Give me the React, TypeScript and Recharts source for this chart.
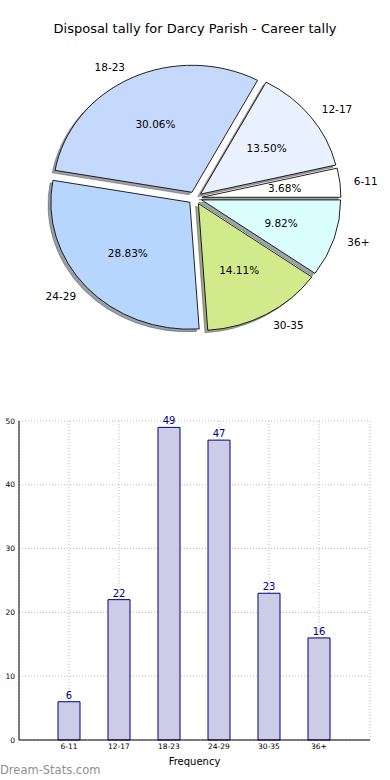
import { Bar, BarChart, CartesianGrid, Cell, LabelList, Pie, PieChart, Sector, XAxis, YAxis } from 'recharts'

const categories = ['6-11', '12-17', '18-23', '24-29', '30-35', '36+']
const tallies = [6, 22, 49, 47, 23, 16]
const sliceColors = ['#ffffff', '#eaf1fe', '#c5d9fd', '#b6d6fe', '#d1eb8c', '#dbffff']
const yTicks = [0, 10, 20, 30, 40, 50]

const pieData = categories.map((name, i) => ({ name, value: tallies[i] }))
const barData = categories.map((name, i) => ({ name, value: tallies[i] }))

const FONT = '"DejaVu Sans", Verdana, sans-serif'
const RAD = Math.PI / 180
// the original pie is an ellipse (axes not equal) with every wedge pushed out a little
const SQUASH = 127 / 139
const EXPLODE = 0.05
const NAVY = '#00007f'

function shadowOf(hex: string) {
  const n = parseInt(hex.slice(1), 16)
  const r = Math.round(((n >> 16) & 255) * 0.3)
  const g = Math.round(((n >> 8) & 255) * 0.3)
  const b = Math.round((n & 255) * 0.3)
  return `rgba(${r},${g},${b},0.5)`
}

function wedgeTransform(p: any, ox = 0, oy = 0) {
  const dx = EXPLODE * p.outerRadius * Math.cos(p.midAngle * RAD)
  const dy = -EXPLODE * p.outerRadius * SQUASH * Math.sin(p.midAngle * RAD)
  return `translate(${p.cx + dx + ox} ${p.cy + dy + oy}) scale(1 ${SQUASH}) translate(${-p.cx} ${-p.cy})`
}

function Wedge(p: any) {
  return (
    <g transform={wedgeTransform(p)}>
      <Sector
        cx={p.cx}
        cy={p.cy}
        innerRadius={0}
        outerRadius={p.outerRadius}
        startAngle={p.startAngle}
        endAngle={p.endAngle}
        fill={p.fill}
        stroke="#000"
        strokeWidth={0.9}
      />
    </g>
  )
}

function WedgeShadow(p: any) {
  const col = shadowOf(sliceColors[p.index ?? 0] ?? '#ffffff')
  return (
    <g transform={wedgeTransform(p, -2.8, 2.5)}>
      <Sector
        cx={p.cx}
        cy={p.cy}
        innerRadius={0}
        outerRadius={p.outerRadius}
        startAngle={p.startAngle}
        endAngle={p.endAngle}
        fill={col}
        stroke={col}
        strokeWidth={0.9}
      />
    </g>
  )
}

function SliceLabel(p: any) {
  const c = Math.cos(p.midAngle * RAD)
  const s = Math.sin(p.midAngle * RAD)
  const ex = p.cx + EXPLODE * p.outerRadius * c
  const ey = p.cy - EXPLODE * p.outerRadius * SQUASH * s
  const name = p.name ?? p.payload?.name
  return (
    <g fontFamily={FONT} fontSize={10.5} fill="#000">
      <text
        x={ex + 1.1 * p.outerRadius * c}
        y={ey - 1.1 * p.outerRadius * SQUASH * s}
        textAnchor={c > 0 ? 'start' : 'end'}
        dominantBaseline="central"
      >
        {name}
      </text>
      <text
        x={ex + 0.6 * p.outerRadius * c}
        y={ey - 0.6 * p.outerRadius * SQUASH * s}
        textAnchor="middle"
        dominantBaseline="central"
      >
        {(p.percent * 100).toFixed(2)}%
      </text>
    </g>
  )
}

export default function App() {
  return (
    <div style={{ position: 'absolute', left: 0, top: 0, width: 390, height: 780, background: '#fff', fontFamily: FONT }}>
      <div style={{ position: 'absolute', top: 21, width: 390, textAlign: 'center', fontSize: 13, color: '#000' }}>
        Disposal tally for Darcy Parish - Career tally
      </div>

      <div style={{ position: 'absolute', top: 0, left: 0 }}>
        <PieChart width={390} height={370} margin={{ top: 0, right: 0, bottom: 0, left: 0 }}>
          <Pie
            data={pieData}
            dataKey="value"
            cx={195}
            cy={198}
            outerRadius={139}
            startAngle={0}
            endAngle={360}
            stroke="none"
            shape={WedgeShadow}
            isAnimationActive={false}
          >
            {pieData.map((d, i) => (
              <Cell key={d.name} fill={sliceColors[i]} />
            ))}
          </Pie>
          <Pie
            data={pieData}
            dataKey="value"
            cx={195}
            cy={198}
            outerRadius={139}
            startAngle={0}
            endAngle={360}
            stroke="#000"
            shape={Wedge}
            label={SliceLabel}
            labelLine={false}
            isAnimationActive={false}
          >
            {pieData.map((d, i) => (
              <Cell key={d.name} fill={sliceColors[i]} />
            ))}
          </Pie>
        </PieChart>
      </div>

      <div style={{ position: 'absolute', top: 400, left: 0 }}>
        <BarChart width={390} height={370} data={barData} margin={{ top: 21, right: 20, bottom: 0, left: 0 }}>
          <CartesianGrid stroke="#a8a8a8" strokeDasharray="1 2" strokeWidth={0.8} />
          <XAxis
            dataKey="name"
            height={30}
            padding={{ left: 25, right: 26 }}
            tick={{ fontSize: 7.5, fill: '#000', fontFamily: FONT }}
            tickLine={false}
            tickSize={2}
            axisLine={{ stroke: '#000' }}
            interval={0}
            label={{ value: 'Frequency', position: 'insideBottom', offset: 5, fontSize: 10, fill: '#000', fontFamily: FONT }}
          />
          <XAxis xAxisId="top" dataKey="name" orientation="top" height={0} tick={false} tickLine={false} axisLine={{ stroke: '#000' }} />
          <YAxis
            width={19}
            domain={[0, 50]}
            ticks={yTicks}
            tick={{ fontSize: 7.5, fill: '#000', fontFamily: FONT }}
            tickLine={false}
            tickSize={2}
            axisLine={{ stroke: '#000' }}
          />
          <YAxis yAxisId="right" orientation="right" width={0} domain={[0, 50]} ticks={yTicks} tick={false} tickLine={false} axisLine={{ stroke: '#000' }} />
          <Bar dataKey="value" barSize={22} fill="#ccccE6" stroke={NAVY} strokeWidth={1} isAnimationActive={false}>
            <LabelList dataKey="value" position="top" offset={3} fill={NAVY} fontSize={10} fontFamily={FONT} />
          </Bar>
        </BarChart>
      </div>

      <div style={{ position: 'absolute', left: 0, top: 763, fontSize: 11.5, color: '#8f8f8f' }}>Dream-Stats.com</div>
    </div>
  )
}
